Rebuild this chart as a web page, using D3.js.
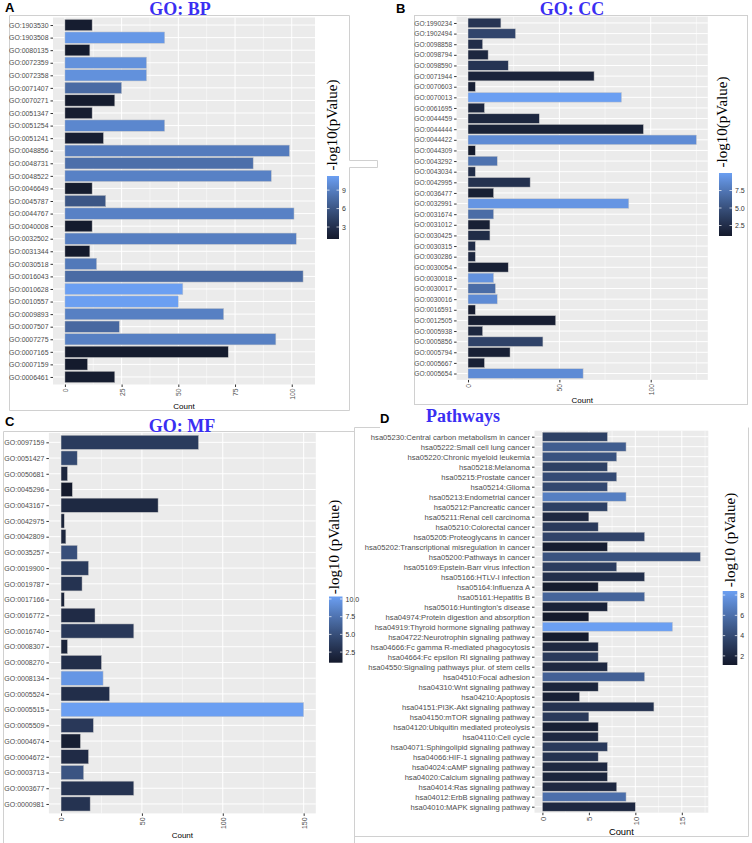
<!DOCTYPE html>
<html><head><meta charset="utf-8">
<script src="https://cdn.jsdelivr.net/npm/d3@7"></script>
<style>body{margin:0;background:#fff}svg{display:block}</style>
</head><body>
<svg id="chart" width="752" height="843"></svg>
<script>
// ---------- DATA ----------
const bpTerms = ["GO:1903530","GO:1903508","GO:0080135","GO:0072359","GO:0072358","GO:0071407","GO:0070271","GO:0051347","GO:0051254","GO:0051241","GO:0048856","GO:0048731","GO:0048522","GO:0046649","GO:0045787","GO:0044767","GO:0040008","GO:0032502","GO:0031344","GO:0030518","GO:0016043","GO:0010628","GO:0010557","GO:0009893","GO:0007507","GO:0007275","GO:0007165","GO:0007159","GO:0006461"];
const bpCount = [12,44,11,36,36,25,22,12,44,17,99,83,91,12,18,101,12,102,11,14,105,52,50,70,24,93,72,10,22];
const bpLogP = [1.3,10.8,1.2,10.3,10.3,7.6,1.2,1.3,9.6,1.4,8.8,7.9,9.2,1.2,6.0,9.2,1.1,9.0,1.05,8.6,7.6,11.3,11.3,9.1,7.4,9.1,1.2,1.1,1.3];

const ccTerms = ["GO:1990234","GO:1902494","GO:0098858","GO:0098794","GO:0098590","GO:0071944","GO:0070603","GO:0070013","GO:0061695","GO:0044459","GO:0044444","GO:0044422","GO:0044309","GO:0043292","GO:0043034","GO:0042995","GO:0036477","GO:0032991","GO:0031674","GO:0031012","GO:0030425","GO:0030315","GO:0030286","GO:0030054","GO:0030018","GO:0030017","GO:0030016","GO:0016591","GO:0012505","GO:0005938","GO:0005856","GO:0005794","GO:0005667","GO:0005654"];
const ccCount = [18,26,8,11,22,69,4,84,9,39,96,125,4,16,4,34,14,88,14,12,12,4,4,22,14,15,16,4,48,8,41,23,9,63];
const ccLogP = [3.0,4.2,2.5,2.0,3.0,1.8,1.5,10.0,2.0,2.0,1.6,8.8,1.0,7.2,2.5,2.8,1.4,9.4,6.8,1.5,2.4,2.4,2.0,1.5,9.2,6.8,8.8,1.2,1.3,2.0,4.0,1.5,1.5,8.8];

const mfTerms = ["GO:0097159","GO:0051427","GO:0050681","GO:0045296","GO:0043167","GO:0042975","GO:0042809","GO:0035257","GO:0019900","GO:0019787","GO:0017166","GO:0016772","GO:0016740","GO:0008307","GO:0008270","GO:0008134","GO:0005524","GO:0005515","GO:0005509","GO:0004674","GO:0004672","GO:0003713","GO:0003677","GO:0000981"];
const mfCount = [85,10,4,7,60,2,3,10,17,13,2,21,45,4,25,26,30,150,20,12,17,14,45,18];
const mfLogP = [3.6,4.6,2.0,1.0,2.2,1.8,2.0,5.0,3.6,3.0,1.8,2.4,3.4,1.8,2.6,9.8,2.6,10.35,3.4,1.4,2.4,5.4,3.0,3.0];

const kgTerms = ["hsa05230:Central carbon metabolism in cancer","hsa05222:Small cell lung cancer","hsa05220:Chronic myeloid leukemia","hsa05218:Melanoma","hsa05215:Prostate cancer","hsa05214:Glioma","hsa05213:Endometrial cancer","hsa05212:Pancreatic cancer","hsa05211:Renal cell carcinoma","hsa05210:Colorectal cancer","hsa05205:Proteoglycans in cancer","hsa05202:Transcriptional misregulation in cancer","hsa05200:Pathways in cancer","hsa05169:Epstein-Barr virus infection","hsa05166:HTLV-I infection","hsa05164:Influenza A","hsa05161:Hepatitis B","hsa05016:Huntington's disease","hsa04974:Protein digestion and absorption","hsa04919:Thyroid hormone signaling pathway","hsa04722:Neurotrophin signaling pathway","hsa04666:Fc gamma R-mediated phagocytosis","hsa04664:Fc epsilon RI signaling pathway","hsa04550:Signaling pathways plur. of stem cells","hsa04510:Focal adhesion","hsa04310:Wnt signaling pathway","hsa04210:Apoptosis","hsa04151:PI3K-Akt signaling pathway","hsa04150:mTOR signaling pathway","hsa04120:Ubiquitin mediated proteolysis","hsa04110:Cell cycle","hsa04071:Sphingolipid signaling pathway","hsa04066:HIF-1 signaling pathway","hsa04024:cAMP signaling pathway","hsa04020:Calcium signaling pathway","hsa04014:Ras signaling pathway","hsa04012:ErbB signaling pathway","hsa04010:MAPK signaling pathway"];
const kgCount = [7,9,8,7,8,7,9,7,5,6,11,7,17,8,11,6,11,7,5,14,5,6,6,7,11,6,4,12,5,6,6,7,6,7,7,8,9,10];
const kgLogP = [3.4,5.0,4.4,3.4,4.0,3.8,6.8,3.4,2.0,3.0,3.6,1.3,4.4,3.2,2.4,1.2,5.4,1.6,1.1,8.4,1.2,2.0,3.0,2.0,5.2,1.8,1.5,2.6,3.0,1.5,2.0,3.0,2.6,2.0,1.8,2.0,6.0,2.0];

const bpXTicks = [0,25,50,75,100], ccXTicks = [0,50,100], mfXTicks = [0,50,100,150], kgXTicks = [0,5,10,15];
const bpLegTicks = [3,6,9], ccLegTicks = [2.5,5,7.5], mfLegTicks = [2.5,5,7.5,10], kgLegTicks = [2,4,6,8];

// ---------- DRAWING ----------
const svg = d3.select("#chart");
const LOW = "#141a2c", HIGH = "#6b9ff2";
const defs = svg.append("defs");
const FRAME = "#d0d0d0";

// frames
svg.append("path").attr("d","M9.5,15.5H349.5V160.5H377.5V167.5H349.5V410.5H9.5Z")
  .attr("fill","none").attr("stroke",FRAME);
svg.append("rect").attr("x",414.5).attr("y",15.5).attr("width",333).attr("height",389)
  .attr("fill","none").attr("stroke",FRAME);
svg.append("path").attr("d","M3.5,843V431.5H354.5")
  .attr("fill","none").attr("stroke",FRAME);
svg.append("path").attr("d","M354.5,843V427.5H380 M748.5,427.5V836.5H354.5")
  .attr("fill","none").attr("stroke",FRAME);

function panel(c, idx) {
  const g = svg.append("g");
  const ext = d3.extent(c.logp);
  const color = d3.scaleLinear().domain(ext).range([LOW, HIGH]).interpolate(d3.interpolateLab);
  const x = d3.scaleLinear().domain([-0.05*c.max, 1.05*c.max]).range([c.px0, c.px1]);
  const y = d3.scalePoint().domain(c.cats).range([c.py0, c.py1]).padding(0.6);
  const step = y.step();

  g.append("rect").attr("x",c.px0).attr("y",c.py0).attr("width",c.px1-c.px0).attr("height",c.py1-c.py0).attr("fill","#EBEBEB");
  // minor grid
  const minor = [];
  for (let i = 0; i < c.ticks.length; i++) {
    const m = c.ticks[i] + (c.ticks[1]-c.ticks[0])/2;
    if (m < 1.05*c.max) minor.push(m);
  }
  g.selectAll(".mn").data(minor).join("line").attr("x1",d=>x(d)).attr("x2",d=>x(d))
    .attr("y1",c.py0).attr("y2",c.py1).attr("stroke","#fff").attr("stroke-width",0.5);
  g.selectAll(".mj").data(c.ticks).join("line").attr("x1",d=>x(d)).attr("x2",d=>x(d))
    .attr("y1",c.py0).attr("y2",c.py1).attr("stroke","#fff").attr("stroke-width",1);
  g.selectAll(".hg").data(c.cats).join("line").attr("x1",c.px0).attr("x2",c.px1)
    .attr("y1",d=>y(d)).attr("y2",d=>y(d)).attr("stroke","#fff").attr("stroke-width",1);
  // bars
  g.selectAll(".bar").data(c.cats).join("rect")
    .attr("x",x(0)).attr("y",d=>y(d)-0.45*step)
    .attr("width",(d,i)=>x(c.vals[i])-x(0)).attr("height",0.9*step)
    .attr("fill",(d,i)=>color(c.logp[i])).attr("stroke","#c8c8c8").attr("stroke-width",0.5);
  // y axis
  const ya = g.append("g").attr("transform",`translate(${c.px0},0)`)
    .call(d3.axisLeft(y).tickSize(2.5).tickPadding(2));
  ya.select(".domain").remove();
  ya.selectAll("line").attr("stroke","#333");
  ya.selectAll("text").attr("fill","#4d4d4d").style("font-family","Liberation Sans, Arial, sans-serif").style("font-size",c.yfs+"px");
  // x axis
  const xa = g.append("g").attr("transform",`translate(0,${c.py1})`)
    .call(d3.axisBottom(x).tickValues(c.ticks).tickSize(2.5));
  xa.select(".domain").remove();
  xa.selectAll("line").attr("stroke","#333");
  xa.selectAll("text").attr("fill","#4d4d4d").style("font-family","Liberation Sans, Arial, sans-serif")
    .style("font-size",c.xfs+"px").attr("transform","rotate(-90)").attr("x",-4).attr("y",0)
    .attr("dy","0.35em").style("text-anchor","end");
  // Count
  g.append("text").attr("x",(c.px0+c.px1)/2).attr("y",c.countY).attr("text-anchor","middle")
    .style("font-family","Liberation Sans, Arial, sans-serif").style("font-size",c.cfs+"px").attr("fill","#000").text("Count");
  // title
  g.append("text").attr("x",c.titleX).attr("y",c.titleY).attr("text-anchor","middle")
    .style("font-family","Liberation Serif, Times New Roman, serif").style("font-weight","bold")
    .style("font-size","18px").attr("fill","#3a2ef2").text(c.title);
  // letter
  g.append("text").attr("x",c.letX).attr("y",c.letY)
    .style("font-family","Liberation Sans, Arial, sans-serif").style("font-weight","bold")
    .style("font-size","13px").attr("fill","#000").text(c.letter);
  // legend title
  g.append("text").attr("transform",`translate(${c.ltX},${c.ltY}) rotate(-90)`).attr("text-anchor","middle")
    .style("font-family","Liberation Serif, Times New Roman, serif").style("font-size","15px").attr("fill","#000").text(c.ltitle);
  // legend bar
  const gid = "grad"+idx;
  const grad = defs.append("linearGradient").attr("id",gid).attr("x1",0).attr("y1",1).attr("x2",0).attr("y2",0);
  d3.range(0,1.0001,0.1).forEach(t=>{
    grad.append("stop").attr("offset",t).attr("stop-color",color(ext[0]+t*(ext[1]-ext[0])));
  });
  const ls = d3.scaleLinear().domain(ext).range([c.lb1, c.lb0]);
  g.append("rect").attr("x",c.lx).attr("y",c.lb0).attr("width",c.lw).attr("height",c.lb1-c.lb0).attr("fill",`url(#${gid})`);
  g.selectAll(".lt1").data(c.legTicks).join("line").attr("x1",c.lx).attr("x2",c.lx+2.5)
    .attr("y1",d=>ls(d)).attr("y2",d=>ls(d)).attr("stroke","#fff").attr("stroke-width",0.7);
  g.selectAll(".lt2").data(c.legTicks).join("line").attr("x1",c.lx+c.lw-2.5).attr("x2",c.lx+c.lw)
    .attr("y1",d=>ls(d)).attr("y2",d=>ls(d)).attr("stroke","#fff").attr("stroke-width",0.7);
  const la = g.append("g").attr("transform",`translate(${c.lx+c.lw},0)`)
    .call(d3.axisRight(ls).tickValues(c.legTicks).tickFormat(c.legFmt).tickSize(0).tickPadding(3));
  la.select(".domain").remove();
  la.selectAll("text").attr("fill","#333").style("font-family","Liberation Sans, Arial, sans-serif").style("font-size","7px");
}

panel({cats:bpTerms, vals:bpCount, logp:bpLogP, max:105, ticks:bpXTicks,
  px0:53, px1:315, py0:17.5, py1:384.5, yfs:6.9, xfs:6.8, cfs:8, countY:409,
  title:"GO: BP", titleX:180, titleY:15, letter:"A", letX:5, letY:12,
  ltitle:"-log10(pValue)", ltX:337, ltY:125, lx:327, lw:12, lb0:176, lb1:239,
  legTicks:bpLegTicks, legFmt:d3.format("d")}, 0);

panel({cats:ccTerms, vals:ccCount, logp:ccLogP, max:125, ticks:ccXTicks,
  px0:456.6, px1:707.8, py0:16.6, py1:379.9, yfs:6.6, xfs:6.8, cfs:8, countY:403,
  title:"GO: CC", titleX:572, titleY:15, letter:"B", letX:396, letY:13,
  ltitle:"-log10(pValue)", ltX:727, ltY:122, lx:719, lw:13, lb0:173, lb1:236,
  legTicks:ccLegTicks, legFmt:d3.format(".1f")}, 1);

panel({cats:mfTerms, vals:mfCount, logp:mfLogP, max:150, ticks:mfXTicks,
  px0:48.9, px1:315.8, py0:432.9, py1:813.4, yfs:7, xfs:7, cfs:8, countY:838,
  title:"GO: MF", titleX:182, titleY:432, letter:"C", letX:5, letY:426,
  ltitle:"-log10 (pValue)", ltX:339, ltY:547, lx:329, lw:13.5, lb0:596.5, lb1:662.7,
  legTicks:mfLegTicks, legFmt:d3.format(".1f")}, 2);

panel({cats:kgTerms, vals:kgCount, logp:kgLogP, max:17, ticks:kgXTicks,
  px0:534.5, px1:708.3, py0:430.7, py1:812.7, yfs:7.6, xfs:7.6, cfs:9.4, countY:835,
  title:"Pathways", titleX:463, titleY:422, letter:"D", letX:380, letY:423,
  ltitle:"-log10 (pValue)", ltX:735, ltY:540, lx:722.7, lw:14.6, lb0:591, lb1:665,
  legTicks:kgLegTicks, legFmt:d3.format("d")}, 3);
</script>
</body></html>
